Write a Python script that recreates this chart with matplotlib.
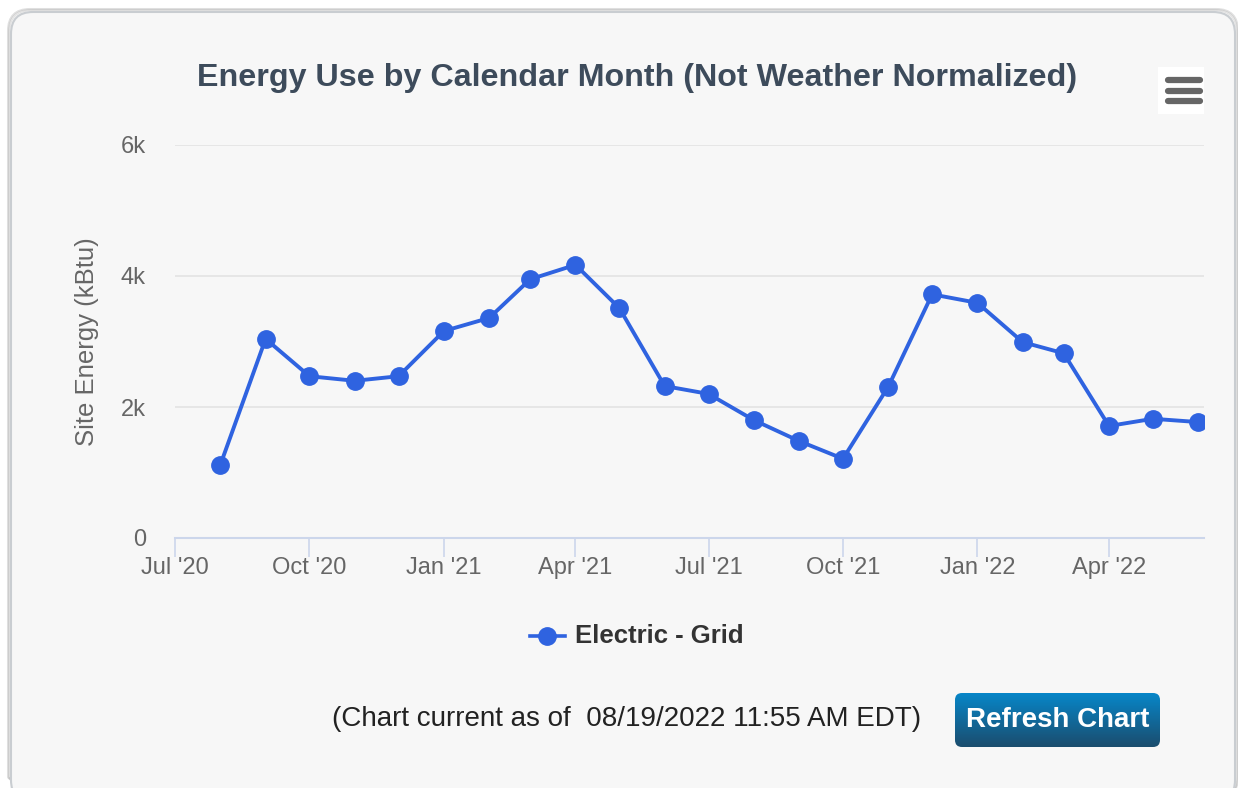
import numpy as np
import pandas as pd
import matplotlib
matplotlib.use("Agg")
import matplotlib.pyplot as plt
from matplotlib.patches import FancyBboxPatch, Rectangle

plt.rcParams['font.family'] = ['Liberation Sans', 'DejaVu Sans']

# data (kBtu per month)
months = pd.date_range("2020-08-01", "2022-06-01", freq="MS")
site_energy = [1115, 3040, 2470, 2400, 2470, 3160, 3360, 3950, 4170, 3510,
               2320, 2200, 1800, 1480, 1210, 2310, 3720, 3590, 2990, 2820,
               1710, 1820, 1770]
tick_dates = pd.to_datetime(["2020-07-01", "2020-10-01", "2021-01-01", "2021-04-01",
                             "2021-07-01", "2021-10-01", "2022-01-01", "2022-04-01"])
tick_labels = ["Jul '20", "Oct '20", "Jan '21", "Apr '21", "Jul '21", "Oct '21",
               "Jan '22", "Apr '22"]
y_ticks = [0, 2000, 4000, 6000]
y_labels = ["0", "2k", "4k", "6k"]

W, H = 1238, 788
fig = plt.figure(figsize=(W / 100, H / 100), dpi=100)
fig.patch.set_facecolor("white")

# background layer in pixel coordinates
bg = fig.add_axes([0, 0, 1, 1], zorder=0)
bg.axis("off")
for i, a in enumerate([0.05, 0.08, 0.12]):
    bg.add_patch(FancyBboxPatch((10 - i, 11 - i), 1226 + 2 * i, 790, boxstyle="round,pad=0,rounding_size=22",
                                facecolor="none", edgecolor="black", alpha=a, lw=1.5))
bg.add_patch(FancyBboxPatch((11, 12), 1224, 790, boxstyle="round,pad=0,rounding_size=22",
                            facecolor="#f7f7f7", edgecolor="#c9cdd1", lw=1.5))

# hamburger menu
bg.add_patch(Rectangle((1158, 67), 46, 47, facecolor="white", edgecolor="none"))
for yy in (80, 91, 101):
    bg.plot([1168, 1200], [yy, yy], color="#666666", lw=4.5, solid_capstyle="round")

# title
bg.text(637, 78, "Energy Use by Calendar Month (Not Weather Normalized)", ha="center", va="center",
        fontsize=23.2, fontweight="bold", color="#3d4b5b")

# y axis title
bg.text(87, 342, "Site Energy (kBtu)", ha="center", va="center", rotation=90,
        fontsize=18.5, color="#666666")

# legend
bg.plot([530, 565], [636, 636], color="#2f63e0", lw=2.6)
bg.plot([547], [636], marker="o", ms=12.5, color="#2f63e0")
bg.text(575, 636, "Electric - Grid", ha="left", va="center", fontsize=18.5, fontweight="bold", color="#333333")

# footer
bg.text(627, 719, "(Chart current as of  08/19/2022 11:55 AM EDT)", ha="center", va="center",
        fontsize=20, color="#222222")
grad = np.linspace(0, 1, 100).reshape(-1, 1)
cmap = matplotlib.colors.LinearSegmentedColormap.from_list("btn", ["#0786c8", "#1b4d6e"])
btn = FancyBboxPatch((955, 693), 205, 54, boxstyle="round,pad=0,rounding_size=7",
                     facecolor="none", edgecolor="none")
bg.add_patch(btn)
im = bg.imshow(grad, cmap=cmap, extent=(955, 1160, 747, 693), aspect="auto", zorder=2)
im.set_clip_path(btn)
bg.text(1058, 720, "Refresh Chart", ha="center", va="center", fontsize=20, fontweight="bold",
        color="white", zorder=3)
bg.set_xlim(0, W)
bg.set_ylim(H, 0)

# main chart
ax = fig.add_axes([175 / W, 250 / H, (1204 - 175) / W, (538 - 145) / H], zorder=1)
ax.patch.set_alpha(0)
ax.plot(months, site_energy, color="#2f63e0", lw=2.8, marker="o", ms=12.5, zorder=3)
ax.set_xlim(pd.Timestamp("2020-07-01"), pd.Timestamp("2022-06-05"))
ax.set_ylim(0, 6000)
ax.set_yticks(y_ticks)
ax.set_yticklabels(y_labels)
ax.set_xticks(tick_dates)
ax.set_xticklabels(tick_labels)
ax.grid(axis="y", color="#e3e3e3", lw=1.2)
ax.set_axisbelow(True)
for s in ("top", "right", "left"):
    ax.spines[s].set_visible(False)
ax.spines["bottom"].set_color("#ccd6eb")
ax.spines["bottom"].set_linewidth(1.5)
ax.tick_params(axis="x", colors="#666666", labelsize=17, length=14, width=1.2, color="#ccd6eb", pad=0)
ax.tick_params(axis="y", colors="#666666", labelsize=17, length=0, pad=21)

fig.savefig("out.png", dpi=100)
